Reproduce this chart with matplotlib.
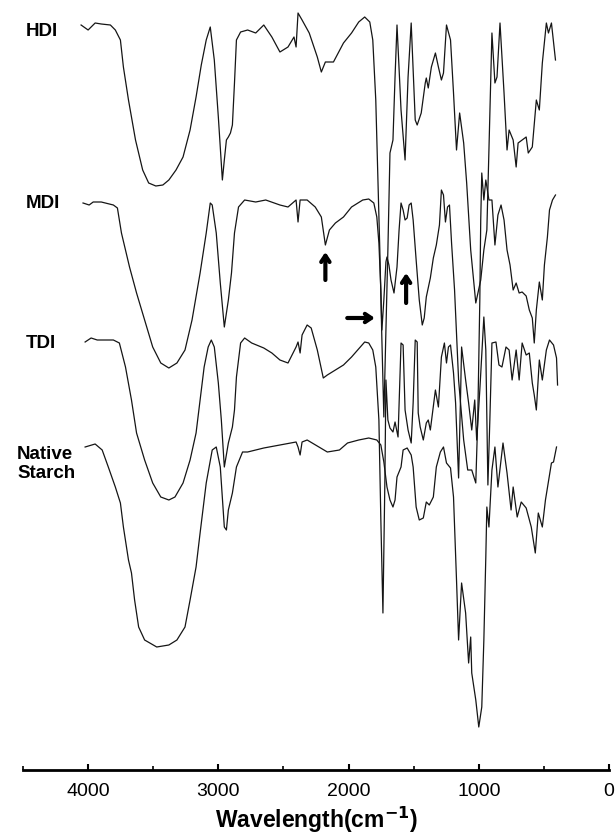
import matplotlib
matplotlib.use("Agg")
import matplotlib.pyplot as plt
from matplotlib.ticker import MultipleLocator

# FTIR spectra, stacked transmittance (a.u.) vs wavenumber (cm-1)
hdi_wn = [4054, 4000, 3946, 3899, 3829, 3791, 3752, 3729, 3690, 3636, 3581, 3535, 3480, 3426,
          3380, 3325, 3271, 3217, 3171, 3131, 3093, 3062, 3031, 3000, 2969, 2954, 2938, 2923,
          2907, 2892, 2876, 2861, 2829, 2775, 2713, 2651, 2589, 2527, 2465, 2419, 2403, 2388,
          2357, 2302, 2240, 2209, 2178, 2116, 2039, 1977, 1922, 1876, 1837, 1814, 1791, 1775,
          1760, 1744, 1729, 1713, 1698, 1682, 1659, 1643, 1628, 1597, 1566, 1543, 1519, 1488,
          1473, 1442, 1411, 1403, 1388, 1364, 1333, 1310, 1287, 1271, 1248, 1217, 1194, 1171,
          1147, 1116, 1093, 1062, 1023, 985, 961, 938, 922, 899, 876, 860, 837, 806, 783, 767,
          736, 713, 698, 667, 636, 620, 589, 558, 535, 512, 481, 465, 442, 411]
hdi_t = [745, 740, 747, 746, 745, 740, 730, 703, 670, 630, 600, 587, 584, 585,
         590, 600, 613, 640, 673, 705, 730, 743, 710, 653, 590, 610, 630, 633,
         637, 645, 687, 730, 738, 740, 737, 745, 733, 718, 723, 733, 723, 757,
         750, 737, 713, 698, 708, 708, 727, 737, 748, 753, 748, 730, 670, 593,
         520, 430, 353, 440, 520, 617, 630, 693, 745, 660, 610, 693, 747, 650,
         645, 657, 687, 692, 682, 703, 717, 703, 690, 697, 745, 730, 677, 620,
         657, 627, 587, 520, 467, 490, 520, 540, 620, 737, 687, 693, 747, 677, 620, 640,
         630, 603, 627, 630, 633, 617, 623, 670, 660, 707, 747, 737, 747, 710]

mdi_wn = [4039, 3992, 3961, 3899, 3806, 3775, 3744, 3682, 3628, 3566, 3504, 3442, 3380, 3318,
          3256, 3202, 3140, 3093, 3062, 3047, 3016, 2985, 2954, 2923, 2899, 2876, 2845, 2798,
          2713, 2636, 2527, 2465, 2403, 2388, 2372, 2318, 2256, 2209, 2178, 2147, 2101, 2039,
          1977, 1891, 1845, 1806, 1783, 1767, 1752, 1744, 1729, 1713, 1705, 1690, 1674, 1651,
          1628, 1612, 1597, 1581, 1566, 1550, 1535, 1519, 1504, 1481, 1457, 1434, 1419, 1403,
          1372, 1349, 1326, 1302, 1287, 1271, 1256, 1240, 1225, 1209, 1186, 1155, 1116, 1085,
          1054, 1023, 1008, 992, 985, 977, 961, 946, 922, 899, 876, 853, 829, 806, 783, 760,
          736, 713, 690, 667, 636, 612, 589, 574, 558, 535, 512, 496, 473, 457, 434, 411]
mdi_t = [567, 565, 568, 568, 565, 562, 537, 503, 477, 450, 423, 407, 402, 407,
         420, 450, 497, 537, 567, 565, 537, 487, 443, 470, 497, 537, 563, 570,
         568, 570, 565, 563, 570, 548, 570, 570, 563, 553, 525, 540, 547, 553,
         563, 570, 571, 567, 553, 527, 480, 440, 470, 508, 513, 505, 490, 477,
         503, 540, 567, 560, 550, 552, 565, 567, 550, 510, 470, 445, 452, 473,
         492, 512, 525, 545, 580, 575, 548, 563, 565, 527, 480, 390, 330, 300,
         300, 287, 350, 470, 550, 597, 570, 590, 570, 570, 525, 555, 565, 550, 520, 505,
         480, 487, 477, 478, 474, 460, 452, 427, 460, 488, 470, 505, 533, 560, 570, 575]

tdi_wn = [4023, 3977, 3930, 3868, 3806, 3760, 3713, 3667, 3628, 3566, 3504, 3442, 3380, 3333,
          3271, 3217, 3171, 3140, 3109, 3078, 3054, 3031, 3000, 2977, 2954, 2923, 2892, 2876,
          2861, 2829, 2798, 2744, 2651, 2589, 2527, 2465, 2403, 2388, 2372, 2357, 2318, 2287,
          2240, 2194, 2163, 2101, 2039, 1977, 1930, 1876, 1845, 1814, 1791, 1767, 1752, 1736,
          1721, 1713, 1698, 1682, 1659, 1643, 1620, 1597, 1581, 1566, 1543, 1519, 1504, 1488,
          1473, 1465, 1450, 1426, 1403, 1388, 1372, 1333, 1310, 1287, 1264, 1248, 1233, 1217,
          1194, 1178, 1155, 1140, 1132, 1101, 1078, 1054, 1031, 1016, 992, 961, 946, 930,
          915, 899, 868, 845, 822, 791, 767, 744, 713, 690, 667, 636, 612, 589, 574, 558,
          535, 512, 481, 457, 426, 403, 395]
tdi_t = [428, 432, 430, 430, 430, 427, 403, 370, 337, 310, 287, 273, 270, 273,
         287, 310, 337, 370, 403, 423, 430, 423, 387, 350, 303, 327, 343, 360,
         393, 427, 432, 427, 422, 417, 410, 407, 423, 428, 417, 435, 445, 442,
         420, 392, 395, 400, 405, 413, 420, 428, 427, 420, 403, 350, 250, 157,
         290, 390, 350, 342, 338, 348, 333, 427, 425, 360, 340, 327, 367, 430,
         428, 357, 343, 330, 347, 350, 340, 380, 363, 413, 427, 407, 423, 425,
         397, 367, 292, 373, 423, 390, 367, 340, 370, 330, 380, 453, 420, 285,
         350, 427, 428, 405, 403, 423, 420, 390, 420, 390, 427, 415, 417, 387, 375, 360,
         410, 390, 420, 430, 425, 412, 385]

starch_wn = [4023, 3946, 3892, 3845, 3791, 3752, 3729, 3690, 3667, 3643, 3612, 3566, 3473, 3380,
             3318, 3256, 3217, 3171, 3140, 3093, 3047, 3016, 2985, 2954, 2938, 2923, 2892, 2861,
             2814, 2775, 2651, 2527, 2403, 2388, 2372, 2357, 2318, 2163, 2070, 2008, 1922, 1845,
             1783, 1752, 1729, 1705, 1682, 1659, 1643, 1628, 1597, 1581, 1550, 1519, 1504, 1481,
             1457, 1426, 1403, 1380, 1349, 1326, 1295, 1271, 1248, 1217, 1194, 1171, 1155, 1132,
             1101, 1078, 1062, 1054, 1023, 1000, 977, 961, 946, 938, 922, 899, 876, 853,
             814, 783, 752, 736, 705, 674, 636, 597, 566, 543, 512, 488, 442, 426, 403]
starch_t = [323, 326, 320, 303, 283, 267, 243, 210, 197, 170, 143, 130, 123, 125,
            130, 143, 170, 203, 237, 287, 320, 323, 303, 243, 240, 260, 277, 303,
            318, 318, 322, 325, 328, 323, 315, 328, 330, 318, 320, 327, 330, 332,
            330, 325, 308, 283, 270, 263, 270, 293, 303, 320, 322, 315, 303, 263,
            250, 252, 268, 265, 273, 303, 318, 323, 307, 302, 273, 190, 130, 187,
            157, 107, 133, 97, 70, 43, 63, 130, 213, 263, 243, 300, 323, 283,
            327, 297, 260, 283, 253, 268, 262, 243, 217, 257, 243, 270, 307, 308, 323]

spectra = [(hdi_wn, hdi_t), (mdi_wn, mdi_t), (tdi_wn, tdi_t), (starch_wn, starch_t)]
names = ["HDI", "MDI", "TDI", "Native\nStarch"]
label_pos = [(26, 32), (26, 204), (26, 343), (17, 464)]   # pixels from top-left

# arrows on the MDI trace: (tip wavenumber, tip T, tail wavenumber, tail T)
arrows = [(2178, 518, 2178, 490), (1558, 497, 1558, 467), (1798, 452, 2010, 452)]

W, H = 616, 840
fig = plt.figure(figsize=(W / 100, H / 100), dpi=100)
ax = fig.add_axes([23 / W, 1 - 770 / H, 586 / W, 770 / H])

for wn, t in spectra:
    ax.plot(wn, t, color="#151515", lw=0.9)

for tx, ty, sx, sy in arrows:
    ax.annotate("", xy=(tx, ty), xytext=(sx, sy),
                arrowprops=dict(arrowstyle="->,head_length=0.45,head_width=0.3",
                                lw=3, color="black", shrinkA=0, shrinkB=0))

for name, (px, py) in zip(names, label_pos):
    fig.text(px / W, 1 - py / H, name, fontsize=13.5, fontweight="bold",
             family="Liberation Sans", va="center", ha="left", linespacing=1.2)

ax.set_xlim(4500, 0)
ax.set_ylim(0, 770)
for s in ["top", "left", "right"]:
    ax.spines[s].set_visible(False)
ax.spines["bottom"].set_linewidth(2)
ax.set_yticks([])
ax.xaxis.set_major_locator(MultipleLocator(1000))
ax.xaxis.set_minor_locator(MultipleLocator(500))
ax.tick_params(axis="x", which="major", direction="in", length=4, width=1.5, pad=9,
               labelsize=14)
ax.tick_params(axis="x", which="minor", direction="in", length=3, width=1.2)
for lab in ax.get_xticklabels():
    lab.set_family("Liberation Sans")
ax.set_xlabel("Wavelength(cm$^{\\mathbf{-1}}$)", fontsize=16.5, fontweight="bold",
              family="Liberation Sans", labelpad=4)

fig.savefig("out.png", dpi=100)
